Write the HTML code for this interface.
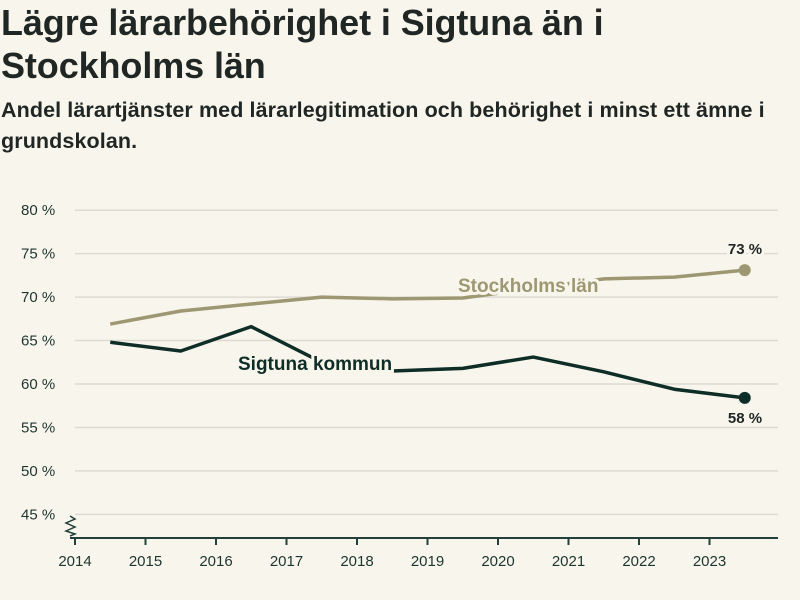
<!DOCTYPE html>
<html><head><meta charset="utf-8"><style>
body{margin:0;width:800px;height:600px;background:#f8f6ec;font-family:"Liberation Sans",sans-serif;color:#1d2622;overflow:hidden}
h1{position:absolute;left:1px;top:1px;margin:0;font-size:36px;line-height:43px;font-weight:700;color:#1f2624;letter-spacing:-0.1px}
h2{position:absolute;left:1px;top:95px;margin:0;font-size:21.5px;line-height:31px;font-weight:700;color:#1f2624;width:799px;letter-spacing:0.1px}
svg{position:absolute;left:0;top:0}
</style></head><body>
<h1>Lägre lärarbehörighet i Sigtuna än i<br>Stockholms län</h1>
<h2>Andel lärartjänster med lärarlegitimation och behörighet i minst ett ämne i grundskolan.</h2>
<svg id="c" width="800" height="600"></svg>
<script>
const years=[2014,2015,2016,2017,2018,2019,2020,2021,2022,2023];
const yTicks=[45,50,55,60,65,70,75,80];
const stockholm=[66.9,68.4,69.2,70.0,69.8,69.9,71.0,72.1,72.3,73.1];
const sigtuna=[64.8,63.8,66.6,62.5,61.5,61.8,63.1,61.4,59.4,58.4];
const NS="http://www.w3.org/2000/svg",svg=document.getElementById('c');
const x=v=>75+(v-2014)*70.5, y=v=>384-(v-60)*8.69;
function el(t,a,txt){const e=document.createElementNS(NS,t);for(const k in a)e.setAttribute(k,a[k]);if(txt!=null)e.textContent=txt;svg.appendChild(e);return e;}
yTicks.forEach(t=>{
 const g=el('line',{x1:75,x2:778,y1:y(t),y2:y(t),stroke:'#dddad2','stroke-width':1.5});
 
 
 const l=el('text',{x:21,y:y(t)+5,'font-size':15,fill:'#1d3530'},t+' %');
 
 
});
const ax=el('line',{x1:70,x2:778,y1:538,y2:538,stroke:'#23403a','stroke-width':2});


const br=el('polyline',{points:'70,516 75,519 66,523 75,527 66,531 75,534 70,536',fill:'none',stroke:'#23403a','stroke-width':1.5});


years.forEach(yr=>{
 const t=el('line',{x1:x(yr),x2:x(yr),y1:538,y2:545,stroke:'#23403a','stroke-width':2});
 
 
 const l=el('text',{x:x(yr),y:566,'font-size':15,fill:'#1d3530','text-anchor':'middle'},yr);
 
 
});
function series(vals,col,name){
 const p=el('polyline',{points:vals.map((v,i)=>x(years[i]+0.5)+','+y(v)).join(' '),fill:'none',stroke:col,'stroke-width':3.5,'stroke-linejoin':'round'});
 
 
 const n=vals.length-1;
 const c=el('circle',{cx:x(years[n]+0.5),cy:y(vals[n]),r:6,fill:col});
 
 
}
series(stockholm,'#9d9772','stockholm');
series(sigtuna,'#0e2d27','sigtuna');
function label(tx,xx,yy,col,name,size,anchor){
 const t=el('text',{x:xx,y:yy,'font-size':size,'font-weight':'bold',fill:col,stroke:'#f8f6ec','stroke-width':6,'paint-order':'stroke','text-anchor':anchor||'start'},tx);
 
 
}
label('Stockholms län',458,292,'#9d9772','stockholm-label',19);
label('Sigtuna kommun',238,370,'#0e2d27','sigtuna-label',19);
const n=years.length-1;
label(Math.round(stockholm[n])+' %',745,y(stockholm[n])-16,'#1d2622','stockholm-end-value',15,'middle');
label(Math.round(sigtuna[n])+' %',745,y(sigtuna[n])+25,'#1d2622','sigtuna-end-value',15,'middle');
</script>
</body></html>
